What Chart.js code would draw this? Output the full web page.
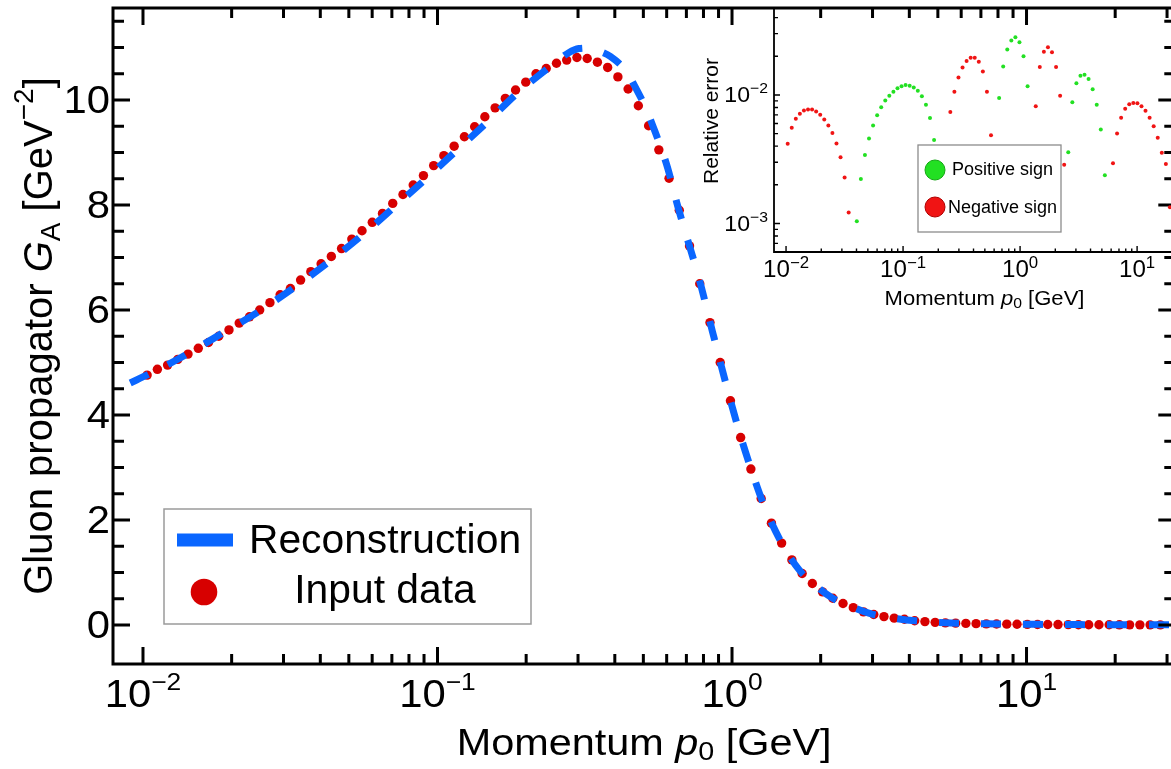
<!DOCTYPE html>
<html><head><meta charset="utf-8">
<script src="https://cdn.jsdelivr.net/npm/chart.js@4.4.1/dist/chart.umd.min.js"></script>
<style>
html,body{margin:0;padding:0;background:#fff;}
#wrap{position:relative;width:1171px;height:769px;overflow:hidden;background:#fff;}
#wrap canvas{position:absolute;left:0;top:0;}
</style></head><body>
<div id="wrap"><canvas id="mainChart" width="1180" height="769"></canvas><canvas id="insetChart" width="1180" height="769"></canvas></div>
<script>
// ---------- data ----------
const momentum = [
0.01033,0.01119,0.01212,0.01313,0.01422,0.01541,0.01669,0.01808,0.01959,0.02122,
0.02299,0.02490,0.02698,0.02922,0.03166,0.03429,0.03715,0.04025,0.04360,0.04723,
0.05117,0.05543,0.06005,0.06505,0.07047,0.07634,0.08270,0.08959,0.09705,0.1051,
0.1139,0.1234,0.1337,0.1448,0.1569,0.1699,0.1841,0.1994,0.2160,0.2340,
0.2535,0.2746,0.2975,0.3223,0.3491,0.3782,0.4097,0.4438,0.4808,0.5209,
0.5643,0.6113,0.6622,0.7173,0.7771,0.8418,0.9119,0.9879,1.070,1.159,
1.256,1.361,1.474,1.597,1.730,1.874,2.030,2.199,2.382,2.581,
2.796,3.029,3.281,3.554,3.850,4.171,4.519,4.895,5.303,5.745,
6.223,6.741,7.303,7.911,8.570,9.284,10.06,10.90,11.80,12.79,
13.86,15.01,16.26,17.62,19.08,20.67,22.39,24.26,26.28,28.47];
const propagatorInput = [
4.76,4.87,4.95,5.06,5.16,5.27,5.38,5.50,5.62,5.75,
5.87,6.00,6.14,6.29,6.41,6.57,6.73,6.88,7.02,7.17,
7.35,7.51,7.67,7.84,8.03,8.20,8.38,8.56,8.75,8.94,
9.12,9.30,9.49,9.68,9.85,10.03,10.19,10.34,10.50,10.60,
10.70,10.76,10.81,10.79,10.72,10.62,10.44,10.21,9.89,9.51,
9.05,8.51,7.90,7.22,6.50,5.76,5.00,4.27,3.57,2.97,
2.41,1.94,1.56,1.24,0.98,0.79,0.63,0.51,0.41,0.33,
0.25,0.20,0.16,0.13,0.11,0.08,0.065,0.05,0.04,0.035,
0.03,0.026,0.022,0.019,0.016,0.014,0.012,0.010,0.009,0.008,
0.007,0.006,0.005,0.0045,0.004,0.0035,0.003,0.0027,0.0024,0.002];
const reconMomentum = [0.00905,0.0105,0.0135,0.0185,0.0244,0.0328,0.0424,0.0562,0.0716,0.0905,
0.1172,0.147,0.1858,0.2443,0.279,0.302,0.329,0.355,0.386,0.437,
0.472,0.514,0.539,0.575,0.605,0.654,0.697,0.777,0.859,0.969,
1.061,1.175,1.29,1.485,1.696,1.906,2.19,2.52,2.95,3.45,
4.2,5.8,8,11,15,20,26,33];
const reconPropagator = [4.61,4.78,5.10,5.55,5.95,6.44,6.90,7.45,7.97,8.48,
9.06,9.57,10.12,10.66,10.90,10.98,10.99,10.93,10.83,10.55,
10.22,9.80,9.50,9.08,8.70,7.98,7.45,6.55,5.58,4.45,
3.66,2.88,2.25,1.53,1.04,0.77,0.515,0.36,0.215,0.14,
0.08,0.035,0.021,0.012,0.007,0.0045,0.003,0.002];
const relErrorPositive = [
null,null,null,null,null,null,null,null,null,null,
null,null,null,null,null,null,null,0.00104,0.00222,0.00341,
0.00459,0.0058,0.00694,0.00804,0.00904,0.00988,0.0106,0.01127,0.01167,0.01194,
0.0118,0.01146,0.0108,0.00977,0.00838,0.00662,0.00446,0.0022,null,null,
null,null,null,null,null,null,null,null,null,null,
null,null,0.00948,0.01663,0.0226,0.0266,0.0281,0.0257,0.0200,0.01167,
null,null,null,null,null,null,null,null,null,0.00358,
0.00879,0.01236,0.0141,0.0144,0.0133,0.0111,0.00838,0.00538,0.00237,null,
null,null,null,null,null,null,null,null,null,null,
null,null,null,null,null,null,null,null,null,null];
const relErrorNegative = [
0.00418,0.00555,0.00654,0.00714,0.00757,0.00771,0.00771,0.00744,0.00702,0.00645,
0.00580,0.00507,0.00420,0.00328,0.00228,0.00122,null,null,null,null,
null,null,null,null,null,null,null,null,null,null,
null,null,null,null,null,null,null,null,null,0.0030,
0.00736,0.0106,0.01368,0.01633,0.01837,0.0195,0.0195,0.01815,0.01521,0.0106,
0.00486,null,null,null,null,null,null,null,null,null,
null,0.00819,0.01652,0.0217,0.0235,0.0215,0.01652,0.00988,0.00286,null,
null,null,null,null,null,null,null,null,null,null,
0.00294,0.00501,0.00665,0.0078,0.00848,0.00868,0.00862,0.00819,0.00753,0.00665,
0.0057,0.00464,0.00356,0.0029,0.00134,null,null,null,null,null];
const mainXTickExponents = [-2, -1, 0, 1];
const mainYTickValues = [0, 2, 4, 6, 8, 10];
const insetXTickExponents = [-2, -1, 0, 1];
const insetYTickExponents = [-3, -2];
const mainSeriesNames = ['Reconstruction', 'Input data'];
const insetSeriesNames = ['Positive sign', 'Negative sign'];

// ---------- styling ----------
const BLUE = '#0a66ff', RED = '#d70000', GREEN = '#22e022', IRED = '#f01414';
const FAM = '"Liberation Sans", Arial, Helvetica, sans-serif';
function fnt(s, it) { return (it ? 'italic ' : '') + s + 'px ' + FAM; }
function rich(ctx, parts, x, y, o) {
  o = o || {};
  ctx.save();
  ctx.translate(x, y);
  if (o.rotate) ctx.rotate(o.rotate);
  ctx.scale(o.sx || 1, 1);
  ctx.fillStyle = '#000';
  ctx.textBaseline = 'alphabetic';
  ctx.textAlign = 'left';
  let total = 0;
  const ws = parts.map(p => { ctx.font = fnt(p.s, p.i); const w = ctx.measureText(p.t).width; total += w; return w; });
  let cx = o.align === 'center' ? -total / 2 : (o.align === 'right' ? -total : 0);
  parts.forEach((p, k) => { ctx.font = fnt(p.s, p.i); ctx.fillText(p.t, cx, p.dy || 0); cx += ws[k]; });
  ctx.restore();
}
function logTicks(sc, lowest) {
  const out = [];
  const lo = Math.floor(Math.log10(sc.min)), hi = Math.ceil(Math.log10(sc.max));
  for (let d = lo; d <= hi; d++) for (let m = 1; m <= 9; m++) {
    const v = m * Math.pow(10, d);
    if (v >= sc.min && v <= sc.max && (lowest === undefined || v >= lowest * 0.999)) out.push({ v, major: m === 1 });
  }
  return out;
}
function expText(e) { return e < 0 ? '\u2212' + (-e) : String(e); }

// ---------- main chart ----------
const mainDecor = {
  id: 'mainDecor',
  afterDatasetsDraw(chart) {
    const ctx = chart.ctx, a = chart.chartArea, xs = chart.scales.x, ys = chart.scales.y;
    ctx.save();
    ctx.strokeStyle = '#000';
    ctx.lineCap = 'butt';
    ctx.lineWidth = 3;
    ctx.beginPath();
    logTicks(xs, 0.01).forEach(t => {
      const px = xs.getPixelForValue(t.v), L = t.major ? 17 : 10;
      ctx.moveTo(px, a.bottom); ctx.lineTo(px, a.bottom - L);
      ctx.moveTo(px, a.top); ctx.lineTo(px, a.top + L);
    });
    for (let v = 0; v <= ys.max; v += 0.5) {
      const py = ys.getPixelForValue(v), L = mainYTickValues.includes(v) ? 17 : 11;
      ctx.moveTo(a.left, py); ctx.lineTo(a.left + L, py);
      ctx.moveTo(a.right, py); ctx.lineTo(a.right - L, py);
    }
    ctx.stroke();
    ctx.strokeRect(a.left, a.top, a.right - a.left, a.bottom - a.top);
    // tick labels
    mainXTickExponents.forEach(e => {
      rich(ctx, [{ t: '10', s: 38 }, { t: expText(e), s: 24, dy: -17 }], xs.getPixelForValue(Math.pow(10, e)), 707, { align: 'center', sx: 1.1 });
    });
    mainYTickValues.forEach(v => {
      rich(ctx, [{ t: String(v), s: 38 }], 110, ys.getPixelForValue(v) + 13.5, { align: 'right', sx: 1.1 });
    });
    // axis titles
    rich(ctx, [{ t: 'Momentum ', s: 36 }, { t: 'p', s: 36, i: true }, { t: '0', s: 25, dy: 5 }, { t: ' [GeV]', s: 36 }],
      (a.left + a.right) / 2, 755, { align: 'center', sx: 1.15 });
    rich(ctx, [{ t: 'Gluon propagator ', s: 40 }, { t: 'G', s: 40, i: true }, { t: 'A', s: 28, dy: 8 }, { t: ' [GeV', s: 40 }, { t: '\u22122', s: 28, dy: -19 }, { t: ']', s: 40 }],
      52, (a.top + a.bottom) / 2, { align: 'center', rotate: -Math.PI / 2 });
    // legend
    ctx.fillStyle = '#fff';
    ctx.fillRect(164, 509, 367, 115);
    ctx.strokeStyle = '#9a9a9a'; ctx.lineWidth = 1.5;
    ctx.strokeRect(164, 509, 367, 115);
    ctx.fillStyle = BLUE;
    ctx.fillRect(177, 533.5, 56, 13);
    ctx.fillStyle = RED;
    ctx.beginPath(); ctx.arc(204, 592, 13.3, 0, Math.PI * 2); ctx.fill();
    rich(ctx, [{ t: mainSeriesNames[0], s: 40 }], 385, 553, { align: 'center', sx: 1.02 });
    rich(ctx, [{ t: mainSeriesNames[1], s: 40 }], 385, 603, { align: 'center', sx: 1.02 });
    ctx.restore();
  }
};

new Chart(document.getElementById('mainChart'), {
  type: 'scatter',
  data: {
    datasets: [
      {
        type: 'line', label: mainSeriesNames[0],
        data: reconMomentum.map((x, i) => ({ x, y: reconPropagator[i] })),
        borderColor: BLUE, borderWidth: 7, borderDash: [20, 22], borderCapStyle: 'butt',
        pointRadius: 0, fill: false, cubicInterpolationMode: 'monotone', showLine: true
      },
      {
        label: mainSeriesNames[1],
        data: momentum.map((x, i) => ({ x, y: propagatorInput[i] })),
        pointRadius: 4.7, pointBackgroundColor: RED, pointBorderWidth: 0, showLine: false
      }
    ]
  },
  options: {
    responsive: false, animation: false, devicePixelRatio: 1,
    layout: { padding: { left: 113, top: 8, right: 4, bottom: 105 } },
    plugins: { legend: { display: false }, tooltip: { enabled: false }, title: { display: false } },
    scales: {
      x: { type: 'logarithmic', min: 0.00791, max: 32.0, display: false },
      y: { type: 'linear', min: -0.743, max: 11.752, display: false }
    }
  },
  plugins: [mainDecor]
});

// ---------- inset chart ----------
const insetDecor = {
  id: 'insetDecor',
  afterDatasetsDraw(chart) {
    const ctx = chart.ctx, a = chart.chartArea, xs = chart.scales.x, ys = chart.scales.y;
    ctx.save();
    ctx.strokeStyle = '#000';
    ctx.lineWidth = 1.8;
    ctx.beginPath();
    ctx.moveTo(a.left, a.top); ctx.lineTo(a.left, a.bottom); ctx.lineTo(a.right + 2, a.bottom);
    ctx.stroke();
    ctx.lineWidth = 1.4;
    ctx.beginPath();
    logTicks(xs, 0.01).forEach(t => {
      const px = xs.getPixelForValue(t.v), L = t.major ? 6 : 3.5;
      ctx.moveTo(px, a.bottom); ctx.lineTo(px, a.bottom - L);
    });
    logTicks(ys).forEach(t => {
      const py = ys.getPixelForValue(t.v), L = t.major ? 6 : 4;
      ctx.moveTo(a.left, py); ctx.lineTo(a.left + L, py);
    });
    ctx.stroke();
    insetXTickExponents.forEach(e => {
      rich(ctx, [{ t: '10', s: 23 }, { t: expText(e), s: 16, dy: -9 }], xs.getPixelForValue(Math.pow(10, e)), 277, { align: 'center', sx: 1.05 });
    });
    insetYTickExponents.forEach(e => {
      rich(ctx, [{ t: '10', s: 22 }, { t: expText(e), s: 15, dy: -9 }], 768, ys.getPixelForValue(Math.pow(10, e)) + 7.5, { align: 'right', sx: 1.05 });
    });
    rich(ctx, [{ t: 'Momentum ', s: 21 }, { t: 'p', s: 21, i: true }, { t: '0', s: 15, dy: 3 }, { t: ' [GeV]', s: 21 }],
      984.5, 305, { align: 'center', sx: 1.05 });
    rich(ctx, [{ t: 'Relative error', s: 21 }], 718, 121, { align: 'center', rotate: -Math.PI / 2 });
    // legend
    ctx.fillStyle = '#fff';
    ctx.fillRect(918, 145, 143, 87);
    ctx.strokeStyle = '#8c8c8c'; ctx.lineWidth = 1.3;
    ctx.strokeRect(918, 145, 143, 87);
    ctx.lineWidth = 1;
    ctx.fillStyle = GREEN; ctx.strokeStyle = '#15a815';
    ctx.beginPath(); ctx.arc(935, 170, 10, 0, Math.PI * 2); ctx.fill(); ctx.stroke();
    ctx.fillStyle = IRED; ctx.strokeStyle = '#b00000';
    ctx.beginPath(); ctx.arc(935, 207, 10, 0, Math.PI * 2); ctx.fill(); ctx.stroke();
    rich(ctx, [{ t: insetSeriesNames[0], s: 18 }], 1002.5, 175, { align: 'center' });
    rich(ctx, [{ t: insetSeriesNames[1], s: 18 }], 1002.5, 213, { align: 'center' });
    ctx.restore();
  }
};

function pts(arr) {
  return momentum.map((x, i) => ({ x, y: arr[i] })).filter(p => p.y !== null);
}

new Chart(document.getElementById('insetChart'), {
  type: 'scatter',
  data: {
    datasets: [
      { label: insetSeriesNames[0], data: pts(relErrorPositive), pointRadius: 2, pointBackgroundColor: GREEN, pointBorderWidth: 0 },
      { label: insetSeriesNames[1], data: pts(relErrorNegative), pointRadius: 2, pointBackgroundColor: IRED, pointBorderWidth: 0 }
    ]
  },
  options: {
    responsive: false, animation: false, devicePixelRatio: 1,
    layout: { padding: { left: 774, top: 9, right: 4, bottom: 517 } },
    plugins: { legend: { display: false }, tooltip: { enabled: false }, title: { display: false } },
    scales: {
      x: { type: 'logarithmic', min: 0.00789, max: 21.5, display: false },
      y: { type: 'logarithmic', min: 0.000631, max: 0.04668, display: false }
    }
  },
  plugins: [insetDecor]
});
</script>
</body></html>
